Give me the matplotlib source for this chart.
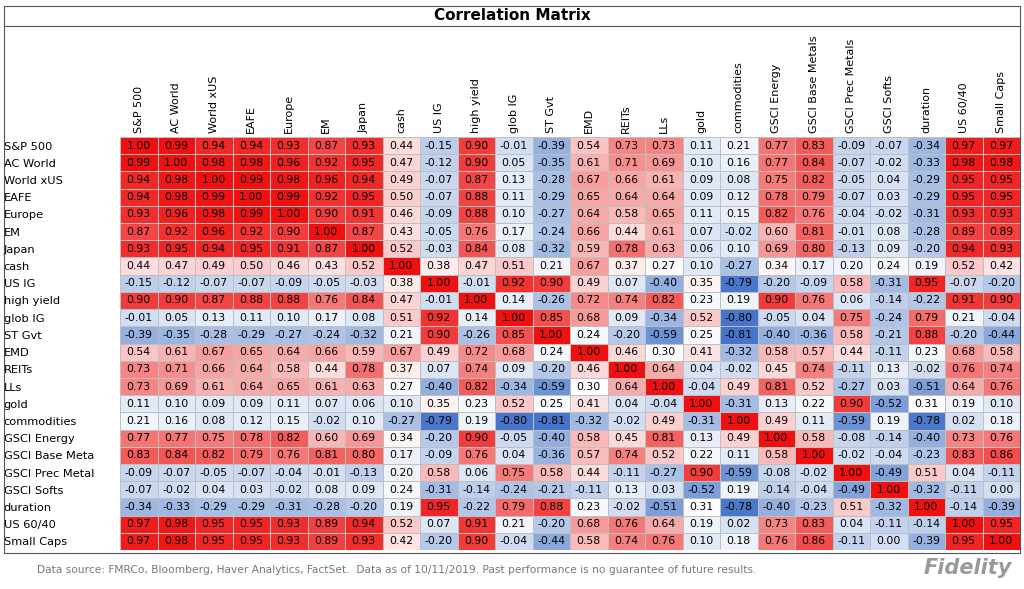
import numpy as np
import matplotlib
matplotlib.use("Agg")
import matplotlib.pyplot as plt
from matplotlib.colors import LinearSegmentedColormap, TwoSlopeNorm
from matplotlib.patches import Rectangle

col_labels = ["S&P 500","AC World","World xUS","EAFE","Europe","EM","Japan","cash","US IG","high yield",
              "glob IG","ST Gvt","EMD","REITs","LLs","gold","commodities","GSCI Energy","GSCI Base Metals",
              "GSCI Prec Metals","GSCI Softs","duration","US 60/40","Small Caps"]
row_labels = ["S&P 500","AC World","World xUS","EAFE","Europe","EM","Japan","cash","US IG","high yield",
              "glob IG","ST Gvt","EMD","REITs","LLs","gold","commodities","GSCI Energy","GSCI Base Meta",
              "GSCI Prec Metal","GSCI Softs","duration","US 60/40","Small Caps"]
r_sp500 = [1.00,0.99,0.94,0.94,0.93,0.87,0.93,0.44,-0.15,0.90,-0.01,-0.39,0.54,0.73,0.73,0.11,0.21,0.77,0.83,-0.09,-0.07,-0.34,0.97,0.97]
r_acw = [0.99,1.00,0.98,0.98,0.96,0.92,0.95,0.47,-0.12,0.90,0.05,-0.35,0.61,0.71,0.69,0.10,0.16,0.77,0.84,-0.07,-0.02,-0.33,0.98,0.98]
r_wxus = [0.94,0.98,1.00,0.99,0.98,0.96,0.94,0.49,-0.07,0.87,0.13,-0.28,0.67,0.66,0.61,0.09,0.08,0.75,0.82,-0.05,0.04,-0.29,0.95,0.95]
r_eafe = [0.94,0.98,0.99,1.00,0.99,0.92,0.95,0.50,-0.07,0.88,0.11,-0.29,0.65,0.64,0.64,0.09,0.12,0.78,0.79,-0.07,0.03,-0.29,0.95,0.95]
r_eur = [0.93,0.96,0.98,0.99,1.00,0.90,0.91,0.46,-0.09,0.88,0.10,-0.27,0.64,0.58,0.65,0.11,0.15,0.82,0.76,-0.04,-0.02,-0.31,0.93,0.93]
r_em = [0.87,0.92,0.96,0.92,0.90,1.00,0.87,0.43,-0.05,0.76,0.17,-0.24,0.66,0.44,0.61,0.07,-0.02,0.60,0.81,-0.01,0.08,-0.28,0.89,0.89]
r_jap = [0.93,0.95,0.94,0.95,0.91,0.87,1.00,0.52,-0.03,0.84,0.08,-0.32,0.59,0.78,0.63,0.06,0.10,0.69,0.80,-0.13,0.09,-0.20,0.94,0.93]
r_cash = [0.44,0.47,0.49,0.50,0.46,0.43,0.52,1.00,0.38,0.47,0.51,0.21,0.67,0.37,0.27,0.10,-0.27,0.34,0.17,0.20,0.24,0.19,0.52,0.42]
r_usig = [-0.15,-0.12,-0.07,-0.07,-0.09,-0.05,-0.03,0.38,1.00,-0.01,0.92,0.90,0.49,0.07,-0.40,0.35,-0.79,-0.20,-0.09,0.58,-0.31,0.95,-0.07,-0.20]
r_hy = [0.90,0.90,0.87,0.88,0.88,0.76,0.84,0.47,-0.01,1.00,0.14,-0.26,0.72,0.74,0.82,0.23,0.19,0.90,0.76,0.06,-0.14,-0.22,0.91,0.90]
r_gig = [-0.01,0.05,0.13,0.11,0.10,0.17,0.08,0.51,0.92,0.14,1.00,0.85,0.68,0.09,-0.34,0.52,-0.80,-0.05,0.04,0.75,-0.24,0.79,0.21,-0.04]
r_stg = [-0.39,-0.35,-0.28,-0.29,-0.27,-0.24,-0.32,0.21,0.90,-0.26,0.85,1.00,0.24,-0.20,-0.59,0.25,-0.81,-0.40,-0.36,0.58,-0.21,0.88,-0.20,-0.44]
r_emd = [0.54,0.61,0.67,0.65,0.64,0.66,0.59,0.67,0.49,0.72,0.68,0.24,1.00,0.46,0.30,0.41,-0.32,0.58,0.57,0.44,-0.11,0.23,0.68,0.58]
r_reit = [0.73,0.71,0.66,0.64,0.58,0.44,0.78,0.37,0.07,0.74,0.09,-0.20,0.46,1.00,0.64,0.04,-0.02,0.45,0.74,-0.11,0.13,-0.02,0.76,0.74]
r_lls = [0.73,0.69,0.61,0.64,0.65,0.61,0.63,0.27,-0.40,0.82,-0.34,-0.59,0.30,0.64,1.00,-0.04,0.49,0.81,0.52,-0.27,0.03,-0.51,0.64,0.76]
r_gold = [0.11,0.10,0.09,0.09,0.11,0.07,0.06,0.10,0.35,0.23,0.52,0.25,0.41,0.04,-0.04,1.00,-0.31,0.13,0.22,0.90,-0.52,0.31,0.19,0.10]
r_comm = [0.21,0.16,0.08,0.12,0.15,-0.02,0.10,-0.27,-0.79,0.19,-0.80,-0.81,-0.32,-0.02,0.49,-0.31,1.00,0.49,0.11,-0.59,0.19,-0.78,0.02,0.18]
r_gen = [0.77,0.77,0.75,0.78,0.82,0.60,0.69,0.34,-0.20,0.90,-0.05,-0.40,0.58,0.45,0.81,0.13,0.49,1.00,0.58,-0.08,-0.14,-0.40,0.73,0.76]
r_gbm = [0.83,0.84,0.82,0.79,0.76,0.81,0.80,0.17,-0.09,0.76,0.04,-0.36,0.57,0.74,0.52,0.22,0.11,0.58,1.00,-0.02,-0.04,-0.23,0.83,0.86]
r_gpm = [-0.09,-0.07,-0.05,-0.07,-0.04,-0.01,-0.13,0.20,0.58,0.06,0.75,0.58,0.44,-0.11,-0.27,0.90,-0.59,-0.08,-0.02,1.00,-0.49,0.51,0.04,-0.11]
r_gsf = [-0.07,-0.02,0.04,0.03,-0.02,0.08,0.09,0.24,-0.31,-0.14,-0.24,-0.21,-0.11,0.13,0.03,-0.52,0.19,-0.14,-0.04,-0.49,1.00,-0.32,-0.11,0.00]
r_dur = [-0.34,-0.33,-0.29,-0.29,-0.31,-0.28,-0.20,0.19,0.95,-0.22,0.79,0.88,0.23,-0.02,-0.51,0.31,-0.78,-0.40,-0.23,0.51,-0.32,1.00,-0.14,-0.39]
r_6040 = [0.97,0.98,0.95,0.95,0.93,0.89,0.94,0.52,0.07,0.91,0.21,-0.20,0.68,0.76,0.64,0.19,0.02,0.73,0.83,0.04,-0.11,-0.14,1.00,0.95]
r_sc = [0.97,0.98,0.95,0.95,0.93,0.89,0.93,0.42,-0.20,0.90,-0.04,-0.44,0.58,0.74,0.76,0.10,0.18,0.76,0.86,-0.11,0.00,-0.39,0.95,1.00]

M = np.array([r_sp500,r_acw,r_wxus,r_eafe,r_eur,r_em,r_jap,r_cash,r_usig,r_hy,r_gig,r_stg,r_emd,
              r_reit,r_lls,r_gold,r_comm,r_gen,r_gbm,r_gpm,r_gsf,r_dur,r_6040,r_sc])

W, H = 1024, 589
fig = plt.figure(figsize=(W/100, H/100), dpi=100)
fig.patch.set_facecolor("white")

cmap = LinearSegmentedColormap.from_list("fid", ["#3f6fc8", "#aac0e6", "#ffffff", "#f7a8a8", "#f01010"])
norm = TwoSlopeNorm(vmin=-0.85, vcenter=0.3, vmax=1.0)

x0, x1, y0, y1 = 120, 1020, 137, 550
ax = fig.add_axes([x0/W, 1-y1/H, (x1-x0)/W, (y1-y0)/H])
n = len(row_labels)
ax.pcolormesh(np.arange(n+1), np.arange(n+1), M, cmap=cmap, norm=norm, edgecolor="#bfbfbf", linewidth=0.5)
ax.set_xlim(0, n); ax.set_ylim(n, 0)
for i in range(n):
    for j in range(n):
        ax.text(j+0.5, i+0.5, f"{M[i,j]:.2f}", ha="center", va="center", fontsize=7.8, color="black")
ax.xaxis.tick_top()
ax.set_xticks(np.arange(n)+0.5)
ax.set_xticklabels(col_labels, rotation=90, fontsize=8)
ax.set_yticks(np.arange(n)+0.5)
ax.set_yticklabels(row_labels, fontsize=8.2)
ax.tick_params(length=0, pad=3)
for lab in ax.get_yticklabels():
    lab.set_horizontalalignment("left")
    lab.set_x(-112/900)
for s in ax.spines.values():
    s.set_visible(False)

fig.patches.append(Rectangle((4/W, 1-553/H), 1016/W, 547/H, transform=fig.transFigure,
                             fill=False, edgecolor="#555555", linewidth=0.8))
fig.lines.append(plt.Line2D([4/W, 1020/W], [1-26/H, 1-26/H], transform=fig.transFigure, color="#555555", linewidth=0.8))
fig.text(0.5, 1-16/H, "Correlation Matrix", ha="center", va="center", fontsize=11, fontweight="bold")
fig.text(37/W, 1-570/H, "Data source: FMRCo, Bloomberg, Haver Analytics, FactSet.  Data as of 10/11/2019. Past performance is no guarantee of future results.",
         ha="left", va="center", fontsize=7.7, color="#777777")
fig.text(1012/W, 1-568/H, "Fidelity", ha="right", va="center", fontsize=15, color="#999999",
         fontweight="bold", style="italic")
fig.savefig("out.png", dpi=100)
